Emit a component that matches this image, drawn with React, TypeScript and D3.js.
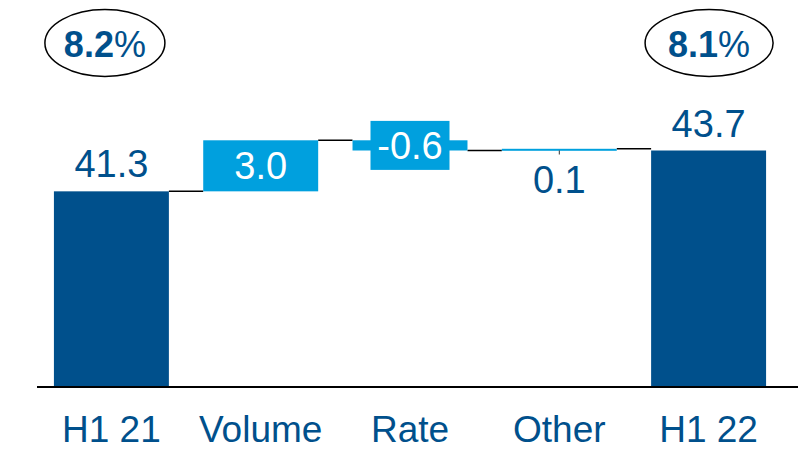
import * as d3 from "d3";

const categories = ["H1 21", "Volume", "Rate", "Other", "H1 22"];
const values = [41.3, 3.0, -0.6, 0.1, 43.7];
const isTotal = [true, false, false, false, true];
const marginLabels = ["8.2", "8.1"];

const W = 799;
const H = 450;
const DARK = "#00508C";
const LIGHT = "#00A0DE";
const FONT = "'Liberation Sans', Arial, sans-serif";

type Step = { name: string; value: number; start: number; end: number; total: boolean };

// running totals for the waterfall
const steps: Step[] = [];
let running = 0;
categories.forEach((name, i) => {
  const total = isTotal[i];
  const start = total ? 0 : running;
  const end = total ? values[i] : running + values[i];
  running = end;
  steps.push({ name, value: values[i], start, end, total });
});

export default function App() {
  const x = d3
    .scaleBand<string>()
    .domain(categories)
    .range([37.5, 782.5])
    .paddingInner(0.23)
    .paddingOuter(0.11);

  // the axis does not start at zero in the original
  const y = d3.scaleLinear().domain([29.8, 43.7]).range([387, 150.5]);

  const bw = x.bandwidth();
  // plain hyphen instead of d3's unicode minus
  const fmt = (v: number) => d3.format(".1f")(v).replace("\u2212", "-");

  return (
    <svg
      width={W}
      height={H}
      style={{ position: "absolute", left: 0, top: 0, background: "#fff" }}
      fontFamily={FONT}
    >
      {/* connectors */}
      {steps.slice(0, -1).map((s, i) => (
        <line
          key={"c" + i}
          x1={(x(s.name) || 0) + bw}
          x2={x(steps[i + 1].name) || 0}
          y1={y(s.end)}
          y2={y(s.end)}
          stroke="#000"
          strokeWidth={1.5}
        />
      ))}

      {steps.map((s) => {
        const x0 = x(s.name) || 0;
        const cx = x0 + bw / 2;
        const lo = s.total ? y.domain()[0] : Math.min(s.start, s.end);
        const hi = Math.max(s.start, s.end);
        const top = y(hi);
        const bottom = y(lo);
        const h = Math.max(bottom - top, 2);
        const label = fmt(s.value);
        let text;
        if (s.total) {
          text = (
            <text x={cx} y={top - 14} textAnchor="middle" fontSize={38} fill={DARK}>
              {label}
            </text>
          );
        } else if (h > 40) {
          text = (
            <text x={cx} y={top + h / 2} dy="0.36em" textAnchor="middle" fontSize={38} fill="#fff">
              {label}
            </text>
          );
        } else if (s.value < 0) {
          text = (
            <g>
              <rect x={cx - 39.5} y={top + h / 2 - 24.5} width={79} height={49} fill={LIGHT} />
              <text x={cx} y={top + h / 2} dy="0.36em" textAnchor="middle" fontSize={38} fill="#fff">
                {label}
              </text>
            </g>
          );
        } else {
          text = (
            <g>
              <line x1={cx} x2={cx} y1={bottom} y2={bottom + 4} stroke="#333" strokeWidth={1} />
              <text x={cx} y={bottom + 42} textAnchor="middle" fontSize={38} fill={DARK}>
                {label}
              </text>
            </g>
          );
        }
        return (
          <g key={s.name}>
            <rect x={x0} y={top} width={bw} height={h} fill={s.total ? DARK : LIGHT} />
            {text}
          </g>
        );
      })}

      {/* baseline */}
      <line x1={37} x2={798} y1={y(y.domain()[0])} y2={y(y.domain()[0])} stroke="#000" strokeWidth={2} />

      {/* category labels */}
      {categories.map((c) => (
        <text
          key={"l" + c}
          x={(x(c) || 0) + bw / 2}
          y={442}
          textAnchor="middle"
          fontSize={37}
          fill={DARK}
        >
          {c}
        </text>
      ))}

      {/* margin ellipses */}
      {[categories[0], categories[categories.length - 1]].map((c, i) => {
        const cx = (x(c) || 0) + bw / 2 + (i === 0 ? -6.5 : 0.5);
        return (
          <g key={"e" + c}>
            <ellipse cx={cx} cy={43} rx={i === 0 ? 60 : 64} ry={33.5} fill="#fff" stroke="#000" strokeWidth={1.5} />
            <text x={cx} y={57} textAnchor="middle" fontSize={36} fill={DARK} fontWeight="bold">
              {marginLabels[i]}
              <tspan fontWeight="normal">%</tspan>
            </text>
          </g>
        );
      })}
    </svg>
  );
}
